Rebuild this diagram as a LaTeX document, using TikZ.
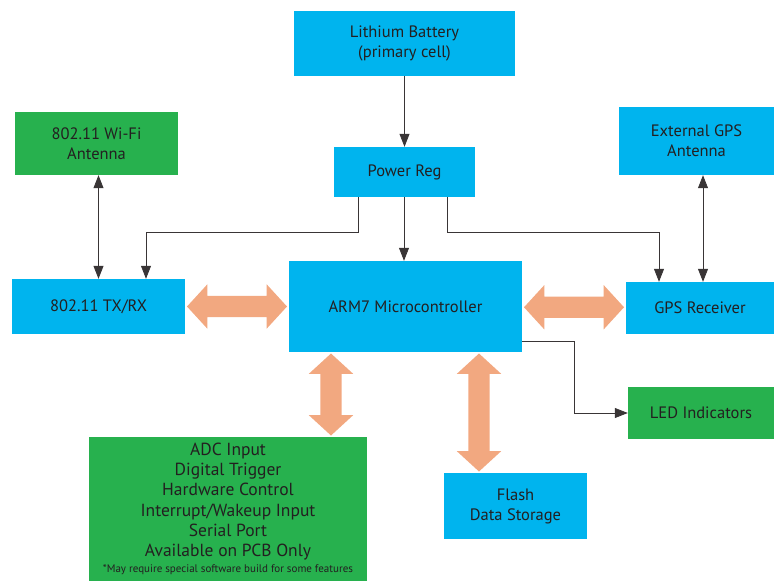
\documentclass[tikz,border=0pt]{standalone}
\usepackage{fontspec}
\setmainfont{PT Sans}
\usetikzlibrary{shapes.arrows,arrows.meta,calc}

\definecolor{chipblue}{RGB}{0,180,238}
\definecolor{padgreen}{RGB}{39,177,78}
\definecolor{busorange}{RGB}{242,168,128}
\definecolor{inktext}{RGB}{35,31,32}

\tikzset{
  blk/.style={fill=chipblue, text=inktext, align=center, inner sep=0pt,
    font=\fontsize{16.5}{20}\selectfont},
  grn/.style={blk, fill=padgreen},
  sig/.style={draw=inktext!90, line width=0.8pt, >={Triangle[length=13pt,width=10pt]}},
  bus/.style={double arrow, fill=busorange, inner sep=0pt, text height=21pt, text depth=0pt,
    double arrow head extend=11.5pt, double arrow tip angle=95}
}

\begin{document}
\begin{tikzpicture}[x=1pt,y=-1pt]
      \useasboundingbox (0,0) rectangle (774,581);

      % blocks
      \node[blk, minimum width=221pt, minimum height=65pt] (bat) at (404.5,43.5) {Lithium Battery\\(primary cell)};
      \node[grn, minimum width=163pt, minimum height=63pt] (wifi) at (96.5,143.5) {802.11 Wi-Fi\\Antenna};
      \node[blk, minimum width=141pt, minimum height=50pt] (preg) at (404.5,172) {Power Reg};
      \node[blk, minimum width=155pt, minimum height=68pt] (extgps) at (696.5,141) {External GPS\\Antenna};
      \node[blk, minimum width=173pt, minimum height=55pt] (txrx) at (98.5,306.5) {802.11 TX/RX};
      \node[blk, minimum width=233pt, minimum height=91pt] (arm) at (405.5,306.5) {ARM7 Microcontroller};
      \node[blk, minimum width=148pt, minimum height=52pt] (gpsr) at (700,308) {GPS Receiver};
      \node[grn, minimum width=146pt, minimum height=52pt] (led) at (701,413) {LED Indicators};
      \node[grn, minimum width=278pt, minimum height=144pt, font=\fontsize{17.5}{20.2}\selectfont] (adc) at (228,509)
        {ADC Input\\Digital Trigger\\Hardware Control\\Interrupt/Wakeup Input\\Serial Port\\Available on PCB Only\\[-4pt]
         {\fontsize{11}{12}\selectfont *May require special software build for some features}};
      \node[blk, minimum width=143pt, minimum height=66pt] (flash) at (515.5,506) {Flash\\Data Storage};

      % power and signal lines
      \draw[sig,->] (bat.south) -- (preg.north);
      \draw[sig,->] ([xshift=-0.5pt]preg.south) -- ([xshift=-1.5pt]arm.north);
      \draw[sig,->] ([xshift=-46pt]preg.south) -- ++(0,35) -| ([xshift=47.5pt]txrx.north);
      \draw[sig,->] ([xshift=42.5pt]preg.south) -- ++(0,35) -| ([xshift=-41pt]gpsr.north);
      \draw[sig,<->] (txrx.north) -- (txrx.north |- wifi.south);
      \draw[sig,<->] ([xshift=3pt]gpsr.north) -- ([xshift=3pt]gpsr.north |- extgps.south);
      \draw[sig,->] ([yshift=11pt]arm.south east) -- ++(52,0) |- (led.west);

      % data buses
      \node[bus, minimum height=100pt] (buswifi) at ($(txrx.east)!0.5!(arm.west)$) {};
      \node[bus, minimum height=100pt] (busgps) at ($(arm.east)!0.5!(gpsr.west)$) {};
      \node[bus, rotate=90, minimum height=82pt] (busadc) at ($(arm.south)!0.5!(arm.south |- adc.north) + (-74.5,0)$) {};
      \node[bus, rotate=90, minimum height=118pt] (busflash) at ($(arm.south)!0.5!(arm.south |- flash.north) + (73.5,0)$) {};
\end{tikzpicture}
\end{document}
